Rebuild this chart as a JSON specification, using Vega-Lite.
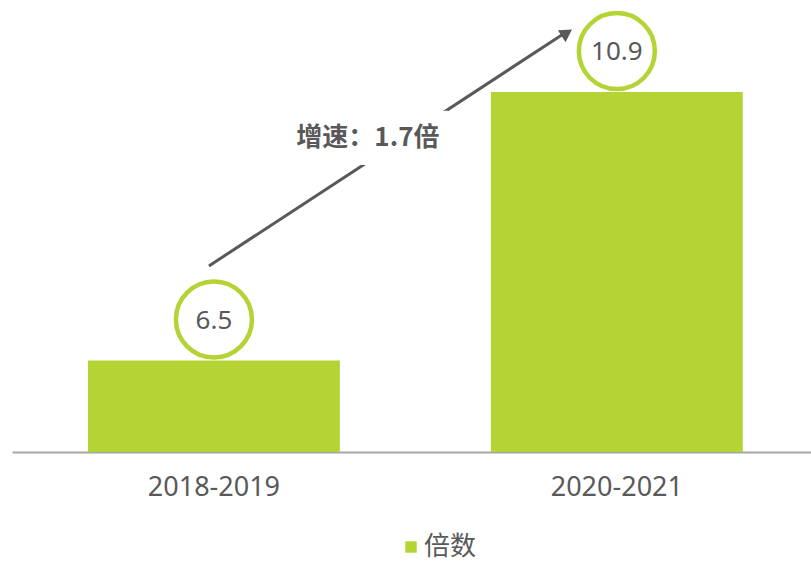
{
  "$schema": "https://vega.github.io/schema/vega-lite/v6.json",
  "width": 799,
  "height": 452,
  "autosize": {"type": "none"},
  "padding": {"left": 12, "top": 0, "right": 0, "bottom": 110},
  "background": "white",
  "config": {"view": {"stroke": null}, "font": "Noto Sans CJK SC"},
  "data": {"values": [
    {"period": "2018-2019", "value": 6.5},
    {"period": "2020-2021", "value": 10.9}
  ]},
  "layer": [
    {
      "mark": {"type": "bar"},
      "encoding": {
        "x": {"field": "period", "type": "nominal", "sort": null,
          "scale": {"paddingInner": 0.375, "paddingOuter": 0.179, "align": 0.527},
          "axis": {"title": null, "labelAngle": 0, "ticks": false, "domainColor": "#A6A6A6", "domainWidth": 2,
            "labelFontSize": 27, "labelColor": "#595959", "labelPadding": 22, "labelFont": "Noto Sans"}},
        "y": {"field": "value", "type": "quantitative", "scale": {"domain": [5, 12.41], "zero": false, "nice": false}, "axis": null},
        "y2": {"datum": 5},
        "color": {"datum": "倍数", "type": "nominal", "scale": {"range": ["#B4D334"]},
          "legend": {"title": null, "orient": "none", "legendX": 386, "legendY": 534, "symbolType": "square", "symbolSize": 130,
            "symbolStrokeWidth": 0, "labelFontSize": 26, "labelColor": "#595959", "labelOffset": 0}}
      }
    },
    {
      "mark": {"type": "point", "shape": "circle", "filled": false, "size": 5776, "stroke": "#B4D334", "strokeWidth": 4.5, "opacity": 1, "yOffset": -41},
      "encoding": {
        "x": {"field": "period", "type": "nominal", "sort": null},
        "y": {"field": "value", "type": "quantitative"}
      }
    },
    {
      "mark": {"type": "text", "fontSize": 26, "color": "#595959", "baseline": "middle", "yOffset": -40, "font": "Noto Sans"},
      "encoding": {
        "x": {"field": "period", "type": "nominal", "sort": null},
        "y": {"field": "value", "type": "quantitative"},
        "text": {"field": "value", "type": "quantitative", "format": ".1f"}
      }
    },
    {
      "data": {"values": [{"from": "2018-2019", "to": "2020-2021", "start": 8.05, "end": 11.87, "label": "增速：1.7倍", "labelY": 10.15}]},
      "layer": [
        {
          "mark": {"type": "rule", "color": "#595959", "strokeWidth": 3, "xOffset": -5, "x2Offset": -52},
          "encoding": {
            "x": {"field": "from", "type": "nominal"},
            "x2": {"field": "to"},
            "y": {"field": "start", "type": "quantitative"},
            "y2": {"field": "end"}
          }
        },
        {
          "mark": {"type": "point", "shape": "M-1,-0.34H1V0.34H-1Z", "filled": true, "size": 25600, "color": "white", "opacity": 1, "xOffset": 154},
          "encoding": {
            "x": {"field": "from", "type": "nominal"},
            "y": {"field": "labelY", "type": "quantitative"}
          }
        },
        {
          "mark": {"type": "point", "shape": "triangle-up", "filled": true, "size": 200, "color": "#595959", "opacity": 1, "angle": 57, "xOffset": -50},
          "encoding": {
            "x": {"field": "to", "type": "nominal"},
            "y": {"field": "end", "type": "quantitative"}
          }
        },
        {
          "mark": {"type": "text", "fontSize": 26, "fontWeight": "bold", "color": "#595959", "baseline": "middle", "xOffset": 154},
          "encoding": {
            "x": {"field": "from", "type": "nominal"},
            "y": {"field": "labelY", "type": "quantitative"},
            "text": {"field": "label"}
          }
        }
      ]
    }
  ]
}
